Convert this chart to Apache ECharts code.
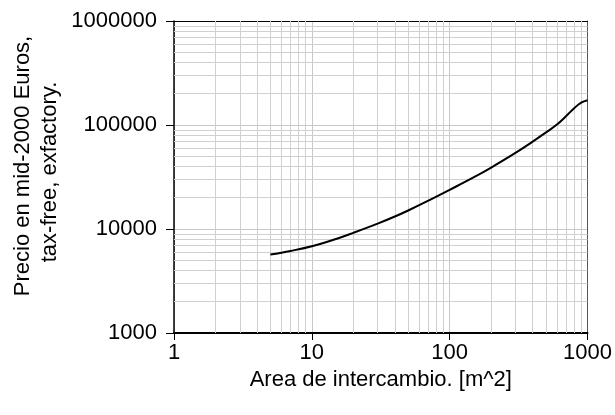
<!DOCTYPE html>
<html>
<head>
<meta charset="utf-8">
<script src="https://cdn.jsdelivr.net/npm/echarts@6/dist/echarts.min.js"></script>
<style>html,body{margin:0;padding:0;background:#fff}#c{width:615px;height:415px}</style>
</head>
<body>
<div id="c"></div>
<script>
// Area de intercambio [m^2]
var areas = [5, 7, 10, 15, 20, 30, 40, 50, 70, 100, 150, 200, 300, 400, 500, 600, 700, 800, 900, 1000];
// Precio en mid-2000 Euros
var prices = [5675, 6150, 6820, 8020, 9180, 11250, 13180, 15070, 18700, 23800, 31500, 39000, 53900, 69300, 84900, 101000, 122000, 145000, 164000, 172800];
var xTickLabels = [1, 10, 100, 1000];
var yTickLabels = [1000, 10000, 100000, 1000000];
var minorX = [2,3,4,5,6,7,8,9,20,30,40,50,60,70,80,90,200,300,400,500,600,700,800,900];
var minorY = [2000,3000,4000,5000,6000,7000,8000,9000,20000,30000,40000,50000,60000,70000,80000,90000,200000,300000,400000,500000,600000,700000,800000,900000];
var xTitle = 'Area de intercambio. [m^2]';
var yTitleLines = ['Precio en mid-2000 Euros,', 'tax-free, exfactory.'];

var FONT = 'Liberation Sans, Arial, sans-serif';
var chart = echarts.init(document.getElementById('c'), null, {renderer: 'canvas'});
var pts = areas.map(function (a, i) { return [a, prices[i]]; });
var gridMarks = minorX.map(function (v) { return {xAxis: v}; })
  .concat(minorY.map(function (v) { return {yAxis: v}; }));

function fmt(v) { return String(Math.round(v)); }

chart.setOption({
  animation: false,
  grid: {left: 174, right: 26, top: 21, bottom: 82, containLabel: false},
  graphic: [{
    type: 'text', x: 23, y: 166, rotation: Math.PI / 2, silent: true,
    style: {text: yTitleLines[0], fill: '#000', font: '22px ' + FONT, textAlign: 'center', textVerticalAlign: 'middle'}
  }, {
    type: 'text', x: 50, y: 172, rotation: Math.PI / 2, silent: true,
    style: {text: yTitleLines[1], fill: '#000', font: '22px ' + FONT, textAlign: 'center', textVerticalAlign: 'middle'}
  }],
  xAxis: [{
    type: 'log', logBase: 10, min: xTickLabels[0], max: xTickLabels[xTickLabels.length - 1],
    name: xTitle, nameLocation: 'middle', nameGap: 36,
    nameTextStyle: {fontFamily: FONT, fontSize: 22, color: '#000'},
    axisLine: {show: true, lineStyle: {color: '#000', width: 2}},
    axisTick: {show: true, inside: false, length: 7, lineStyle: {color: '#000', width: 1}},
    axisLabel: {fontFamily: FONT, fontSize: 22, color: '#000', margin: 9, formatter: fmt},
    splitLine: {show: true, lineStyle: {color: '#c8c8c8', width: 1}},
    minorTick: {show: false}, minorSplitLine: {show: false}
  }, {
    type: 'log', logBase: 10, min: xTickLabels[0], max: xTickLabels[xTickLabels.length - 1],
    position: 'top',
    axisLine: {show: true, lineStyle: {color: '#000', width: 1}},
    axisTick: {show: false}, axisLabel: {show: false}, splitLine: {show: false}
  }],
  yAxis: [{
    type: 'log', logBase: 10, min: yTickLabels[0], max: yTickLabels[yTickLabels.length - 1],
    axisLine: {show: true, lineStyle: {color: '#000', width: 1.5}},
    axisTick: {show: true, inside: false, length: 8, lineStyle: {color: '#000', width: 1}},
    axisLabel: {fontFamily: FONT, fontSize: 22, color: '#000', margin: 17, formatter: fmt},
    splitLine: {show: true, lineStyle: {color: '#c8c8c8', width: 1}},
    minorTick: {show: false}, minorSplitLine: {show: false}
  }, {
    type: 'log', logBase: 10, min: yTickLabels[0], max: yTickLabels[yTickLabels.length - 1],
    position: 'right',
    axisLine: {show: true, lineStyle: {color: '#555', width: 1}},
    axisTick: {show: false}, axisLabel: {show: false}, splitLine: {show: false}
  }],
  series: [{
    type: 'line', data: [], z: 1, silent: true, symbol: 'none',
    markLine: {
      silent: true, symbol: ['none', 'none'], animation: false,
      label: {show: false},
      lineStyle: {color: '#d0d0d0', width: 1, type: 'solid'},
      emphasis: {disabled: true},
      data: gridMarks
    }
  }, {
    type: 'line', data: pts, z: 5, smooth: 0.4, symbol: 'none',
    lineStyle: {color: '#000', width: 2}
  }]
});
</script>
</body>
</html>
